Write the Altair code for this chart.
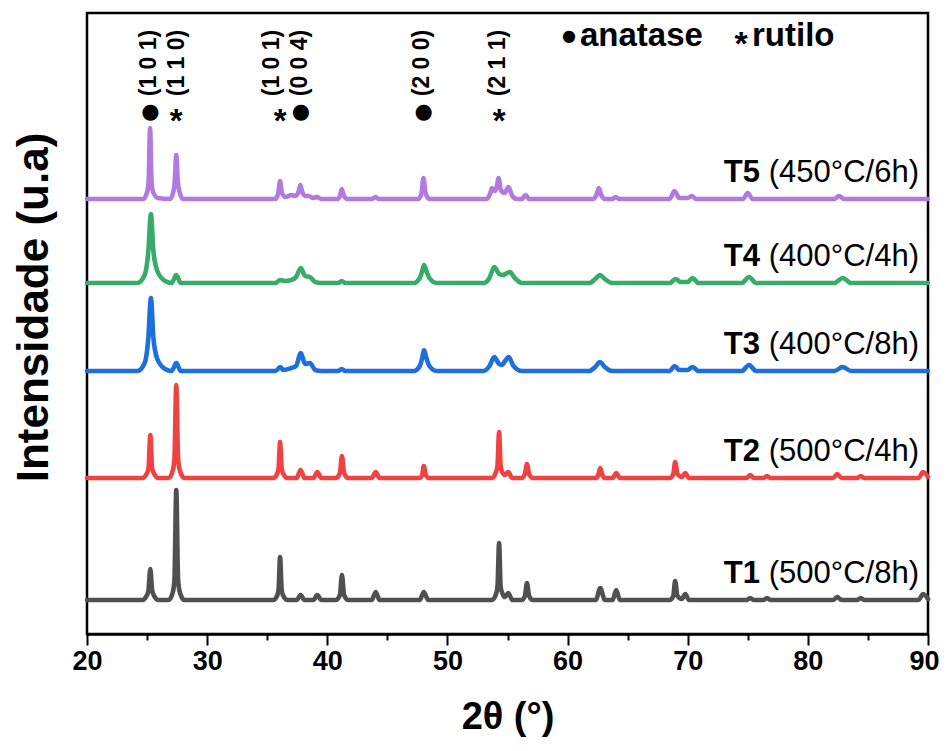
import altair as alt
import pandas as pd

# ---------------- data ----------------
samples = ["T1", "T2", "T3", "T4", "T5"]
conditions = ["(500°C/8h)", "(500°C/4h)", "(400°C/8h)", "(400°C/4h)", "(450°C/6h)"]
colors = ["#505050", "#f04242", "#1c6fdc", "#37ab69", "#b27ade"]
baselines = [34, 156, 263, 351, 435]

t1_points = [
    (20.0, 34), (24.6, 34), (25.0, 39), (25.12, 44), (25.27, 65), (25.42, 44), (25.55, 39), (25.95, 34),
    (26.8, 34), (27.15, 42), (27.28, 55), (27.43, 144), (27.58, 55), (27.72, 42), (28.1, 34),
    (35.5, 34), (35.85, 39), (35.95, 45), (36.07, 77), (36.2, 45), (36.3, 39), (36.7, 34),
    (37.45, 34), (37.78, 39), (38.1, 34),
    (38.85, 34), (39.17, 39), (39.5, 34),
    (40.7, 34), (41.05, 39), (41.22, 59), (41.4, 39), (41.75, 34),
    (43.7, 34), (44.03, 42), (44.35, 34),
    (47.7, 34), (48.03, 42), (48.4, 34),
    (53.7, 34), (54.05, 40), (54.17, 48), (54.3, 91), (54.43, 47), (54.6, 40), (54.8, 37), (55.06, 41), (55.4, 34),
    (56.2, 34), (56.45, 38), (56.62, 51), (56.8, 38), (57.1, 34),
    (62.35, 34), (62.72, 46), (63.1, 34),
    (63.75, 34), (64.05, 44), (64.35, 34),
    (68.5, 34), (68.8, 38), (68.95, 53), (69.15, 38), (69.5, 35), (69.8, 40), (70.1, 34),
    (74.9, 34), (75.2, 36), (75.5, 34),
    (76.3, 34), (76.6, 36), (76.9, 34),
    (82.1, 34), (82.45, 37), (82.8, 34),
    (84.1, 34), (84.4, 36), (84.7, 34),
    (89.2, 34), (89.6, 40), (90.0, 35),
]
t2_points = [
    (20.0, 156), (24.6, 156), (25.0, 161), (25.12, 166), (25.27, 199), (25.42, 166), (25.55, 161), (25.95, 156),
    (26.8, 156), (27.15, 164), (27.28, 176), (27.43, 249), (27.58, 176), (27.72, 164), (28.1, 156),
    (35.5, 156), (35.85, 161), (35.95, 166), (36.07, 192), (36.2, 166), (36.3, 161), (36.7, 156),
    (37.45, 156), (37.78, 164), (38.1, 156),
    (38.85, 156), (39.17, 162), (39.5, 156),
    (40.7, 156), (41.05, 161), (41.22, 178), (41.4, 161), (41.75, 156),
    (43.7, 156), (44.03, 162), (44.35, 156),
    (47.7, 156), (47.9, 159), (48.03, 168), (48.2, 159), (48.45, 156),
    (53.7, 156), (54.05, 162), (54.17, 169), (54.3, 202), (54.43, 168), (54.6, 161), (54.8, 159), (55.06, 162), (55.4, 156),
    (56.2, 156), (56.45, 160), (56.62, 170), (56.8, 160), (57.1, 156),
    (62.35, 156), (62.55, 159), (62.72, 166), (62.9, 159), (63.1, 156),
    (63.75, 156), (64.05, 161), (64.35, 156),
    (68.5, 156), (68.8, 160), (68.95, 172), (69.15, 160), (69.5, 157), (69.8, 161), (70.1, 156),
    (74.9, 156), (75.2, 159), (75.5, 156),
    (76.3, 156), (76.6, 158), (76.9, 156),
    (82.1, 156), (82.45, 160), (82.8, 156),
    (84.1, 156), (84.4, 158), (84.7, 156),
    (89.2, 156), (89.6, 162), (90.0, 157),
]
t3_points = [
    (20.0, 263), (24.2, 263), (24.8, 271), (25.1, 295), (25.32, 336), (25.52, 297), (25.85, 275), (26.5, 265),
    (27.05, 263), (27.43, 271), (27.8, 263),
    (35.7, 263), (36.07, 267), (36.35, 264), (37.0, 266), (37.4, 268), (37.8, 281), (38.15, 270), (38.55, 271), (39.0, 264), (39.5, 263),
    (40.9, 263), (41.2, 265), (41.5, 263),
    (47.2, 263), (47.7, 268), (47.9, 276), (48.05, 284), (48.25, 276), (48.5, 268), (49.1, 263),
    (53.0, 263), (53.5, 268), (53.9, 277), (54.3, 270), (54.5, 269), (55.1, 277), (55.5, 268), (56.2, 263),
    (61.8, 263), (62.3, 267), (62.7, 272), (63.1, 267), (63.7, 263),
    (68.5, 263), (68.9, 268), (69.3, 264), (70.0, 264), (70.4, 267), (70.9, 263),
    (74.5, 263), (75.1, 269), (75.7, 263),
    (82.2, 263), (82.9, 267), (83.6, 263),
    (90.0, 263),
]
t4_points = [
    (20.0, 351), (24.2, 351), (24.8, 359), (25.1, 382), (25.32, 420), (25.52, 384), (25.85, 363), (26.5, 353),
    (27.05, 351), (27.43, 359), (27.8, 351),
    (35.7, 351), (36.07, 354), (36.5, 353), (37.0, 354), (37.4, 357), (37.8, 366), (38.15, 358), (38.55, 357), (39.0, 352), (39.5, 351),
    (40.9, 351), (41.2, 353), (41.5, 351),
    (47.2, 351), (47.7, 356), (47.9, 363), (48.05, 369), (48.25, 363), (48.5, 356), (49.1, 351),
    (53.0, 351), (53.5, 356), (53.9, 367), (54.3, 360), (54.6, 359), (55.2, 362), (55.6, 356), (56.2, 351),
    (61.8, 351), (62.3, 355), (62.7, 359), (63.1, 355), (63.7, 351),
    (68.5, 351), (69.0, 355), (69.4, 352), (70.0, 352), (70.4, 356), (70.9, 351),
    (74.5, 351), (75.1, 357), (75.7, 351),
    (82.2, 351), (82.9, 356), (83.6, 351),
    (90.0, 351),
]
t5_points = [
    (20.0, 435), (24.7, 435), (25.0, 442), (25.12, 450), (25.25, 506), (25.38, 450), (25.5, 442), (25.9, 436),
    (26.9, 435), (27.2, 443), (27.3, 452), (27.43, 479), (27.56, 452), (27.68, 443), (28.0, 435),
    (35.7, 435), (35.92, 441), (36.07, 453), (36.22, 441), (36.55, 437), (37.0, 439), (37.35, 438),
    (37.6, 442), (37.75, 449), (37.95, 441), (38.2, 438), (38.5, 438), (38.8, 436), (39.15, 437), (39.5, 435),
    (40.85, 435), (41.05, 438), (41.2, 445), (41.38, 438), (41.7, 435),
    (43.7, 435), (44.0, 437), (44.3, 435),
    (47.6, 435), (47.85, 441), (48.0, 456), (48.18, 441), (48.5, 435),
    (53.2, 435), (53.55, 440), (53.7, 446), (53.95, 443), (54.1, 447), (54.26, 456), (54.45, 444),
    (54.75, 441), (55.08, 447), (55.4, 438), (55.8, 435),
    (56.2, 435), (56.5, 439), (56.8, 435),
    (62.1, 435), (62.4, 439), (62.6, 446), (62.8, 439), (63.1, 435),
    (63.7, 435), (64.0, 437), (64.3, 435),
    (68.5, 435), (68.9, 443), (69.3, 436), (70.0, 436), (70.35, 438), (70.7, 435),
    (74.6, 435), (75.0, 441), (75.4, 435),
    (82.2, 435), (82.6, 438), (83.0, 435),
    (90.0, 435),
]

hkl_positions = [25.13, 27.47, 35.38, 37.73, 47.86, 54.25]
hkl_labels = ["(1 0 1)", "(1 1 0)", "(1 0 1)", "(0 0 4)", "(2 0 0)", "(2 1 1)"]
phase_positions = [25.27, 27.43, 36.07, 37.8, 48.03, 54.3]
phase_symbols = ["●", "*", "*", "●", "●", "*"]

x_ticks = [20, 25, 30, 35, 40, 45, 50, 55, 60, 65, 70, 75, 80, 85, 90]

# ---------------- tables ----------------
rows = []
for s, pts in zip(samples, [t1_points, t2_points, t3_points, t4_points, t5_points]):
    for i, (x, y) in enumerate(pts):
        rows.append({"sample": s, "two_theta": x, "intensity": y, "order": i})
df = pd.DataFrame(rows)

labels_df = pd.DataFrame({
    "sample": samples,
    "cond": conditions,
    "level": [b + 17 for b in baselines],
})
hkl_df = pd.DataFrame({"two_theta": hkl_positions, "hkl": hkl_labels})
phase_df = pd.DataFrame({"two_theta": phase_positions, "sym": phase_symbols})
dot_df = phase_df[phase_df["sym"] == "●"]
star_df = phase_df[phase_df["sym"] == "*"]

FONT = "Liberation Sans"
W, H = 841, 621
x_scale = alt.Scale(domain=[20, 90], nice=False, zero=False)
y_scale = alt.Scale(domain=[0, 621], nice=False, zero=False)

x_axis = alt.Axis(
    values=x_ticks,
    labelExpr="datum.value % 10 === 0 ? datum.label : ''",
    tickSize={"condition": {"test": "datum.value % 10 === 0", "value": 11}, "value": 6},
    labelOffset={"condition": {"test": "datum.value === 90", "value": -4}, "value": 0},
    tickWidth=2, tickColor="black",
    domainColor="black", domainWidth=2.5,
    labelFont=FONT, labelFontSize=27, labelFontWeight="bold", labelColor="black",
    labelPadding=3, labelFlush=False, labelOverlap=False,
    grid=False,
    title="2θ (°)", titleFont=FONT, titleFontSize=38, titleFontWeight="bold",
    titleColor="black", titleBaseline="middle", titleY=83,
)
y_axis = alt.Axis(
    labels=False, ticks=False, domain=False, grid=False,
    title="Intensidade (u.a)", titleFont=FONT, titleFontSize=44, titleFontWeight="bold",
    titleColor="black", titleBaseline="middle", titleAlign="center",
    titleX=-53, titleY=294, titleAngle=270,
)

lines = alt.Chart(df).mark_line(
    strokeWidth=4.6, interpolate="monotone", strokeJoin="round", strokeCap="round"
).encode(
    x=alt.X("two_theta:Q", scale=x_scale, axis=x_axis),
    y=alt.Y("intensity:Q", scale=y_scale, axis=y_axis),
    color=alt.Color("sample:N", scale=alt.Scale(domain=samples, range=colors), legend=None),
    order=alt.Order("order:Q"),
)

cond_text = alt.Chart(labels_df).mark_text(
    align="right", baseline="alphabetic", font=FONT, fontSize=31, color="black"
).encode(x=alt.value(832), y=alt.Y("level:Q", scale=y_scale), text="cond:N")

name_text = alt.Chart(labels_df).mark_text(
    align="right", baseline="alphabetic", font=FONT, fontSize=31, fontWeight="bold", color="black"
).encode(x=alt.value(673), y=alt.Y("level:Q", scale=y_scale), text="sample:N")

hkl_text = alt.Chart(hkl_df).mark_text(
    angle=270, align="center", baseline="middle", font=FONT, fontSize=23,
    fontWeight="bold", color="black"
).encode(x=alt.X("two_theta:Q", scale=x_scale), y=alt.value(50), text="hkl:N")

dot_text = alt.Chart(dot_df).mark_text(
    align="center", baseline="middle", font="DejaVu Sans", fontSize=21, color="black"
).encode(x=alt.X("two_theta:Q", scale=x_scale), y=alt.value(99), text="sym:N")

star_text = alt.Chart(star_df).mark_text(
    align="center", baseline="alphabetic", font=FONT, fontSize=33, fontWeight="bold",
    color="black", dy=19
).encode(x=alt.X("two_theta:Q", scale=x_scale), y=alt.value(100), text="sym:N")

legend_df = pd.DataFrame({"sym": ["●", "*"], "name": ["anatase", "rutilo"]})
leg_dot = alt.Chart(legend_df.iloc[[0]]).mark_text(
    align="center", baseline="middle", font="DejaVu Sans", fontSize=16, color="black"
).encode(x=alt.value(482), y=alt.value(23), text="sym:N")
leg_star = alt.Chart(legend_df.iloc[[1]]).mark_text(
    align="center", baseline="alphabetic", font=FONT, fontSize=34, fontWeight="bold",
    color="black", dy=19
).encode(x=alt.value(654), y=alt.value(23), text="sym:N")
leg_a = alt.Chart(legend_df.iloc[[0]]).mark_text(
    align="left", baseline="middle", font=FONT, fontSize=33, fontWeight="bold", color="black"
).encode(x=alt.value(493), y=alt.value(23), text="name:N")
leg_r = alt.Chart(legend_df.iloc[[1]]).mark_text(
    align="left", baseline="middle", font=FONT, fontSize=33, fontWeight="bold", color="black"
).encode(x=alt.value(665), y=alt.value(23), text="name:N")

chart = alt.layer(
    lines, cond_text, name_text, hkl_text, dot_text, star_text, leg_dot, leg_star, leg_a, leg_r
).properties(
    width=W, height=H,
    autosize="none",
    padding={"left": 79, "top": 5, "right": 12, "bottom": 108},
    background="white",
).configure_view(stroke="black", strokeWidth=2.5)

chart.save("out.html", embed_options={"renderer": "svg", "actions": False})
